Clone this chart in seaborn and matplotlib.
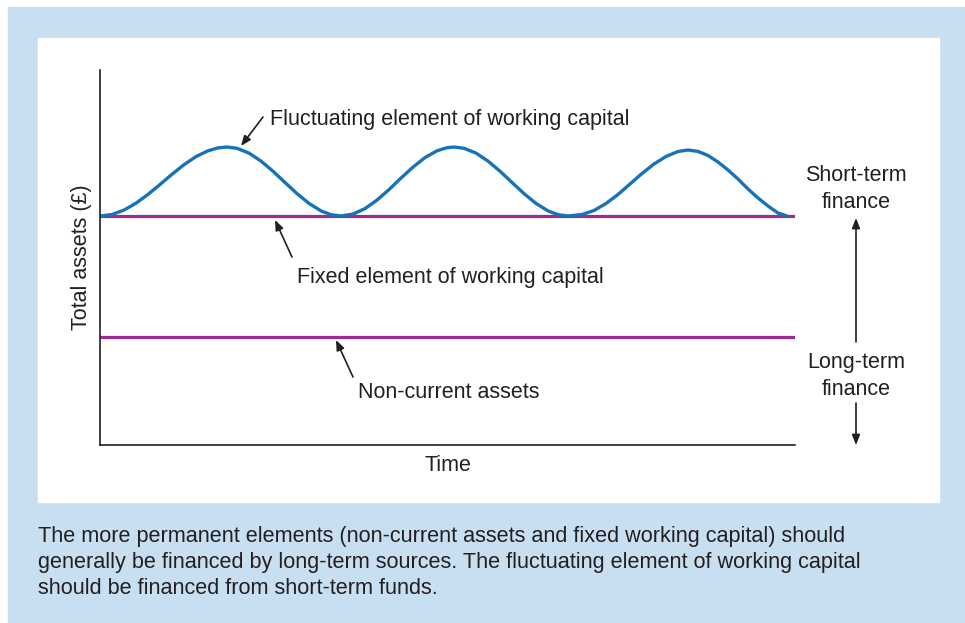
import matplotlib
matplotlib.use("Agg")
import matplotlib.pyplot as plt
import matplotlib.patches as mpatches
import pandas as pd
import seaborn as sns

# %%
# Values (time and total assets in arbitrary units)
wave_time = [0, 12, 24, 36, 48, 60, 72, 84, 96, 108, 118, 127,
             137, 149, 161, 173, 185, 197, 209, 221, 231, 241,
             253, 265, 277, 289, 301, 313, 325, 337, 347, 354,
             364, 376, 388, 400, 412, 424, 436, 448, 458, 468,
             482, 494, 506, 518, 530, 542, 554, 566, 578, 588,
             598, 608, 618, 628, 638, 648, 658, 668, 678, 687]
wave_assets = [229, 230.5, 234.9, 241.8, 250.6, 260.5, 270.7, 280.3, 288.4, 294.2, 297.1, 298,
               296.7, 291.9, 283.9, 273.8, 262.5, 251.4, 241.6, 234.1, 230.3, 229,
               230.9, 236.4, 244.9, 255.4, 266.9, 277.9, 287.4, 294.2, 297.3, 298,
               296.7, 291.9, 283.9, 273.8, 262.5, 251.4, 241.6, 234.1, 230.3, 229,
               230.5, 234.5, 241.5, 250.5, 261, 271.5, 281, 288.5, 293.5, 295,
               293.6, 289.5, 283, 275, 266, 256, 247, 239, 232, 229]

level_time = [0, 695]
fixed_wc = [229, 229]
non_current = [108, 108]

caption = ("The more permanent elements (non-current assets and fixed working capital) should\n"
           "generally be financed by long-term sources. The fluctuating element of working capital\n"
           "should be financed from short-term funds.")

blue_line = "#1673ba"
purple = "#9c2c91"
ink = "#231f20"

# %%
sns.set_style("white")
plt.rcParams["font.family"] = ["Liberation Sans", "DejaVu Sans"]

W, H = 965, 623
fig = plt.figure(figsize=(W / 100, H / 100), dpi=100)
fig.patches.append(mpatches.Rectangle((8 / W, 0), 1, 1 - 7 / H, transform=fig.transFigure,
                                      color="#c8dff2", zorder=-10))
fig.patches.append(mpatches.Rectangle((38 / W, 1 - 502 / H), (939 - 38) / W, (502 - 38) / H,
                                      transform=fig.transFigure, color="white", zorder=-9))

ax = fig.add_axes([100 / W, 1 - 445 / H, 695 / W, 375 / H])
ax.patch.set_alpha(0)

wave_df = pd.DataFrame({"time": wave_time, "assets": wave_assets})
level_df = pd.DataFrame({"time": level_time + level_time,
                         "assets": fixed_wc + non_current,
                         "part": ["fixed"] * 2 + ["noncurrent"] * 2})

sns.lineplot(data=level_df, x="time", y="assets", units="part", estimator=None,
             color=purple, lw=2.3, ax=ax)
sns.lineplot(data=wave_df, x="time", y="assets", sort=False, estimator=None,
             color=blue_line, lw=2.4, ax=ax)

ax.set_xlim(0, 695)
ax.set_ylim(0, 375)
ax.set_xticks([])
ax.set_yticks([])
for side in ["top", "right"]:
    ax.spines[side].set_visible(False)
for side in ["left", "bottom"]:
    ax.spines[side].set_color(ink)
    ax.spines[side].set_linewidth(1.2)
fs = 15.5
ax.set_xlabel("Time", fontsize=fs, color=ink, labelpad=7)
ax.set_ylabel("Total assets (£)", fontsize=fs, color=ink, labelpad=6)

arrow = dict(arrowstyle="-|>,head_length=0.5,head_width=0.2", color=ink, lw=1.2,
             mutation_scale=12, shrinkA=0, shrinkB=0)

ax.annotate("", xy=(141, 299), xytext=(163, 328), arrowprops=arrow)
ax.text(170, 325, "Fluctuating element of working capital", fontsize=fs, color=ink, va="center")

ax.annotate("", xy=(175, 225), xytext=(192, 188), arrowprops=arrow)
ax.text(197, 168, "Fixed element of working capital", fontsize=fs, color=ink, va="center")

ax.annotate("", xy=(236, 105), xytext=(253, 68), arrowprops=arrow)
ax.text(258, 53, "Non-current assets", fontsize=fs, color=ink, va="center")

# finance labels on the right
ax.text(756, 256, "Short-term\nfinance", fontsize=fs, color=ink, ha="center", va="center",
        linespacing=1.35, clip_on=False)
ax.text(756, 69, "Long-term\nfinance", fontsize=fs, color=ink, ha="center", va="center",
        linespacing=1.35, clip_on=False)
ax.annotate("", xy=(756, 227), xytext=(756, 103), arrowprops=arrow, annotation_clip=False)
ax.annotate("", xy=(756, 0), xytext=(756, 42), arrowprops=arrow, annotation_clip=False)

fig.text(38 / W, 1 - 562.5 / H, caption, fontsize=15.6, color=ink, va="center",
         linespacing=1.34)

fig.savefig("out.png", dpi=100)
